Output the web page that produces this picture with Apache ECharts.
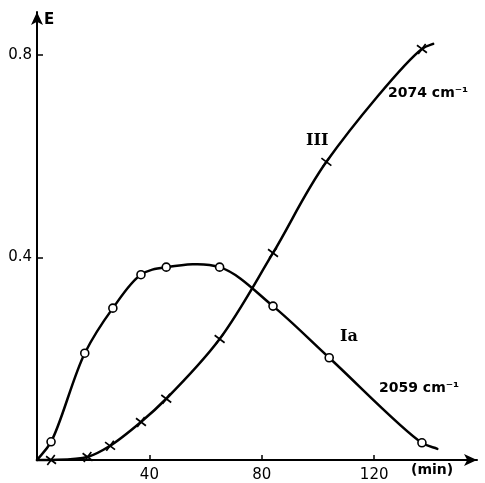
<!DOCTYPE html>
<html>
<head>
<meta charset="utf-8">
<script src="https://cdn.jsdelivr.net/npm/echarts@6/dist/echarts.min.js"></script>
<style>
html,body{margin:0;padding:0;background:#fff;}
#chart{width:485px;height:483px;}
</style>
</head>
<body>
<div id="chart"></div>
<script>
// Series Ia (open circles), 2059 cm-1
const timesIa = [5, 17, 27, 37, 46, 65, 84, 104, 137];
const valuesIa = [0.036, 0.211, 0.300, 0.366, 0.381, 0.381, 0.304, 0.202, 0.034];
// Series III (crosses), 2074 cm-1
const timesIII = [5, 18, 26, 37, 46, 65, 84, 103, 137];
const valuesIII = [0.0, 0.006, 0.028, 0.075, 0.121, 0.239, 0.409, 0.589, 0.812];
// Drawn curve ends (no markers)
const curveStartIa = [0, 0];
const curveEndIa = [142.5, 0.022];
const curveStartIII = [0, 0];
const curveEndIII = [141, 0.822];
// Axis ticks
const xTicks = [40, 80, 120];
const yTicks = [0.4, 0.8];

const crossPath = 'path://M0,1.2L1.2,0L5,3.8L8.8,0L10,1.2L6.2,5L10,8.8L8.8,10L5,6.2L1.2,10L0,8.8L3.8,5Z';

function curvePoints(start, xs, ys, end) {
  const d = [start];
  xs.forEach((x, i) => d.push([x, ys[i]]));
  d.push(end);
  return d;
}
const curveIa = curvePoints(curveStartIa, timesIa, valuesIa, curveEndIa);
const curveIII = curvePoints(curveStartIII, timesIII, valuesIII, curveEndIII);

// centripetal Catmull-Rom through pixel points -> cubic bezier path
function splinePath(P) {
  const n = P.length;
  const get = i => {
    if (i < 0) return [2 * P[0][0] - P[1][0], 2 * P[0][1] - P[1][1]];
    if (i >= n) return [2 * P[n - 1][0] - P[n - 2][0], 2 * P[n - 1][1] - P[n - 2][1]];
    return P[i];
  };
  const dist = (a, b) => Math.pow(Math.hypot(a[0] - b[0], a[1] - b[1]), 0.5) || 1e-6;
  let s = 'M' + P[0][0] + ',' + P[0][1];
  for (let i = 0; i < n - 1; i++) {
    const p0 = get(i - 1), p1 = P[i], p2 = P[i + 1], p3 = get(i + 2);
    const d1 = dist(p0, p1), d2 = dist(p1, p2), d3 = dist(p2, p3);
    const b1 = [0, 1].map(k => (d1 * d1 * p2[k] - d2 * d2 * p0[k] + (2 * d1 * d1 + 3 * d1 * d2 + d2 * d2) * p1[k]) / (3 * d1 * (d1 + d2)));
    const b2 = [0, 1].map(k => (d3 * d3 * p1[k] - d2 * d2 * p3[k] + (2 * d3 * d3 + 3 * d3 * d2 + d2 * d2) * p2[k]) / (3 * d3 * (d3 + d2)));
    s += 'C' + b1[0] + ',' + b1[1] + ',' + b2[0] + ',' + b2[1] + ',' + p2[0] + ',' + p2[1];
  }
  return s;
}

function curveSeries(name, pts) {
  return {
    name: name, type: 'custom', data: [0], silent: true, z: 2,
    renderItem: function (params, api) {
      const px = pts.map(p => api.coord(p));
      return {type: 'path', shape: {pathData: splinePath(px)},
        style: {stroke: '#000', lineWidth: 2.5, fill: null, lineJoin: 'round', lineCap: 'round'}};
    }
  };
}

const chart = echarts.init(document.getElementById('chart'));
const font = '"DejaVu Sans", sans-serif';
chart.setOption({
  animation: false,
  backgroundColor: '#fff',
  grid: {left: 37, right: 8, top: 12, bottom: 23, containLabel: false},
  xAxis: {
    type: 'value', min: 0, max: 156.6, interval: 40,
    axisLine: {show: true, symbol: ['none', 'arrow'], symbolSize: [9, 13], lineStyle: {color: '#000', width: 2}},
    axisTick: {show: true, inside: true, length: 5, lineStyle: {color: '#000', width: 1.5}},
    axisLabel: {color: '#000', fontSize: 15, fontFamily: font, margin: 8, showMaxLabel: false,
      formatter: v => xTicks.includes(v) ? String(v) : ''},
    splitLine: {show: false}
  },
  yAxis: {
    type: 'value', min: 0, max: 0.885, interval: 0.4,
    axisLine: {show: true, symbol: ['none', 'arrow'], symbolSize: [9, 13], lineStyle: {color: '#000', width: 2}},
    axisTick: {show: true, inside: true, length: 6, lineStyle: {color: '#000', width: 1.5}},
    axisLabel: {color: '#000', fontSize: 15, fontFamily: font, margin: 5, showMaxLabel: false,
      formatter: v => yTicks.some(t => Math.abs(t - v) < 1e-6) ? v.toFixed(1) : ''},
    splitLine: {show: false}
  },
  series: [
    curveSeries('Ia curve', curveIa),
    curveSeries('III curve', curveIII),
    {
      name: 'Ia', type: 'scatter', z: 3,
      data: timesIa.map((t, i) => [t, valuesIa[i]]),
      symbol: 'circle', symbolSize: 8,
      itemStyle: {color: '#fff', borderColor: '#000', borderWidth: 1.6, opacity: 1}
    },
    {
      name: 'III', type: 'scatter', z: 3,
      data: timesIII.map((t, i) => [t, valuesIII[i]]),
      symbol: crossPath, symbolSize: 10, symbolRotate: 8,
      itemStyle: {color: '#000', borderWidth: 0, opacity: 1}
    }
  ],
  graphic: [
    {type: 'text', left: 44, top: 13, style: {text: 'E', font: 'bold 15px ' + font, fill: '#000'}},
    {type: 'text', left: 411, top: 463, style: {text: '(min)', font: 'bold 14px ' + font, fill: '#000'}},
    {type: 'text', left: 388, top: 86, style: {text: '2074 cm\u207B\u00B9', font: 'bold 14px ' + font, fill: '#000'}},
    {type: 'text', left: 306, top: 133, style: {text: 'III', font: 'bold 16px "DejaVu Serif", serif', fill: '#000'}},
    {type: 'text', left: 340, top: 329, style: {text: 'Ia', font: 'bold 16px "DejaVu Serif", serif', fill: '#000'}},
    {type: 'text', left: 379, top: 381, style: {text: '2059 cm\u207B\u00B9', font: 'bold 14px ' + font, fill: '#000'}}
  ]
});
</script>
</body>
</html>
